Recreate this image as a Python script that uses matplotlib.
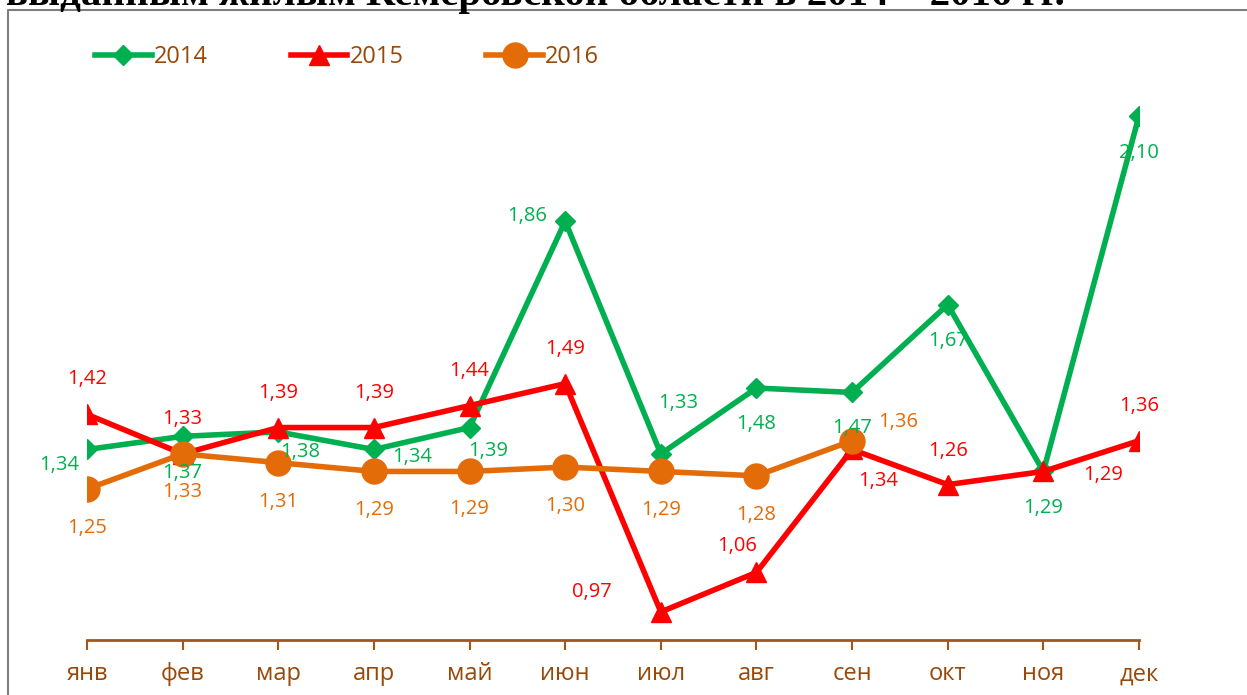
import matplotlib.pyplot as plt
from matplotlib.lines import Line2D

plt.rcParams["font.family"] = ["Open Sans", "DejaVu Sans"]

months = ["янв", "фев", "мар", "апр", "май", "июн", "июл", "авг", "сен", "окт", "ноя", "дек"]
v2014 = [1.34, 1.37, 1.38, 1.34, 1.39, 1.86, 1.33, 1.48, 1.47, 1.67, 1.29, 2.10]
v2015 = [1.42, 1.33, 1.39, 1.39, 1.44, 1.49, 0.97, 1.06, 1.34, 1.26, 1.29, 1.36]
v2016 = [1.25, 1.33, 1.31, 1.29, 1.29, 1.30, 1.29, 1.28, 1.36]

# label offsets in pixels (dx right, dy down)
off2014 = [(-28, 16), (0, 37), (22, 20), (38, 8), (19, 23), (-38, -5),
           (17, -51), (0, 36), (0, 36), (0, 36), (0, 37), (0, 37)]
off2015 = [(0, -35), (0, -35), (0, -35), (0, -35), (0, -35), (0, -35),
           (-69, -20), (-19, -26), (26, 32), (0, -34), (60, 4), (0, -35)]
off2016 = [(0, 39), (0, 38), (0, 39), (0, 39), (0, 38), (0, 39),
           (0, 39), (0, 39), (46, -19)]

green = "#00B050"
red = "#FF0000"
orange = "#E36C09"
brown = "#984807"

W, H = 1247, 695
fig = plt.figure(figsize=(W / 100, H / 100), dpi=100)
ax = fig.add_axes([87 / W, 55 / H, 1052 / W, 568 / H])

x = list(range(len(months)))
ax.plot(x, v2014, color=green, lw=4, marker="D", ms=10, label="2014", zorder=3)
ax.plot(x, v2015, color=red, lw=4, marker="^", ms=14, label="2015", zorder=4)
ax.plot(x[:len(v2016)], v2016, color=orange, lw=4, marker="o", ms=18, label="2016", zorder=5)

for vals, offs, col in [(v2014, off2014, green), (v2015, off2015, red), (v2016, off2016, orange)]:
    for i, (v, o) in enumerate(zip(vals, offs)):
        ax.annotate(f"{v:.2f}".replace(".", ","), (i, v), xytext=(o[0], -o[1]),
                    textcoords="offset pixels", ha="center", va="center",
                    fontsize=14.5, color=col, zorder=10)

ax.set_xlim(0, 11)
ax.set_ylim(0.906, 2.2)
ax.set_xticks(x)
ax.set_xticklabels(months)
ax.set_yticks([])
for s in ["top", "right", "left"]:
    ax.spines[s].set_visible(False)
ax.spines["bottom"].set_color("#A0561E")
ax.spines["bottom"].set_linewidth(2)
ax.tick_params(axis="x", direction="out", length=7, width=1.5, color="#A0561E",
               labelcolor=brown, labelsize=17, pad=9)

leg = ax.legend(loc="upper left", bbox_to_anchor=(95 / W, 1 - 45 / H), bbox_transform=fig.transFigure,
                ncol=3, frameon=False, fontsize=17, handlelength=2.4, handletextpad=0.1,
                columnspacing=3.5, borderaxespad=0, borderpad=0)
for t in leg.get_texts():
    t.set_color(brown)

# outer chart frame
fig.add_artist(Line2D([8 / W, 8 / W, 1], [0, 1 - 10 / H, 1 - 10 / H],
                      transform=fig.transFigure, color="#7F7F7F", lw=1.5))

# heading above the chart, cut off by the page edge as in the source
fig.text(6 / W, 1 - 5 / H, "выданным жилым Кемеровской области в 2014 – 2016 гг.",
         family="Liberation Serif", weight="bold", fontsize=29.5, va="baseline", ha="left")

fig.savefig("out.png", dpi=100)
